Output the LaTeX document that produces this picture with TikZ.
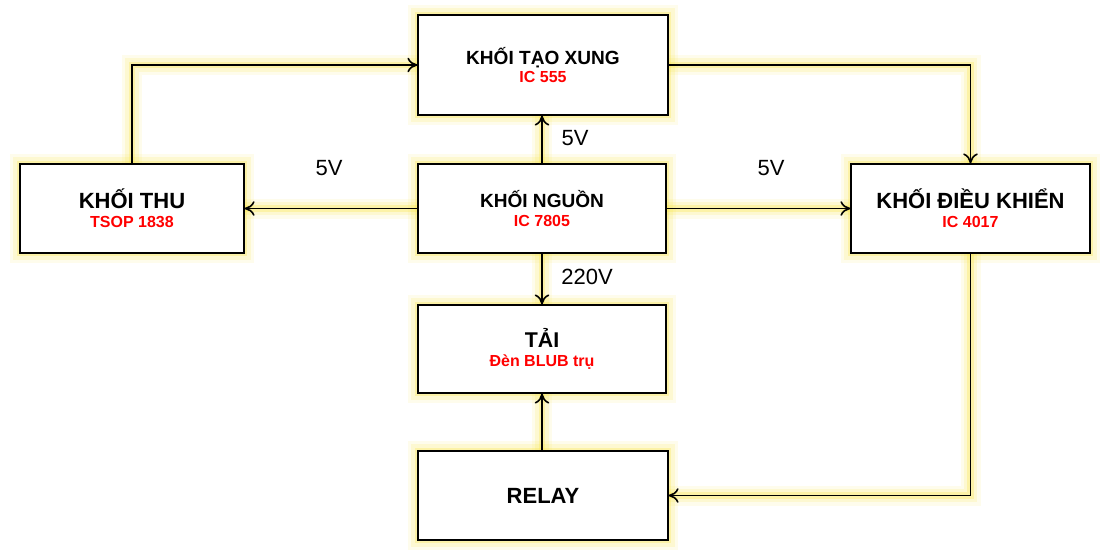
\documentclass[tikz,border=0pt]{standalone}
\usepackage{fontspec}
\setmainfont{Liberation Sans}
\usetikzlibrary{arrows.meta}
\definecolor{glowc}{RGB}{250,230,70}
\newcommand{\subt}[1]{\\[2pt]{\fontsize{12}{12}\selectfont\bfseries\color{red}#1}}
\begin{document}
\begin{tikzpicture}[x=0.75pt,y=-0.75pt,
  glow/.style={preaction={-,draw=glowc,line width=15pt,opacity=0.1},
               preaction={-,draw=glowc,line width=10pt,opacity=0.16},
               preaction={-,draw=glowc,line width=5pt,opacity=0.3}},
  blk/.style={draw=black,fill=white,line width=0.9pt,glow,align=center,inner sep=0pt},
  conn/.style={-{To[length=7.5pt,width=11pt,line width=1.2pt]},line width=1.2pt,glow},
  lbl/.style={font=\fontsize{16.5}{16.5}\selectfont}]
\useasboundingbox (0,0) rectangle (1111,560);
\fill[white] (0,0) rectangle (1111,560);
\node[blk,minimum width=187.5pt,minimum height=75pt] (top) at (543,65)
  {{\fontsize{14.3}{15}\selectfont\bfseries KHỐI TẠO XUNG}\subt{IC 555}};
\node[blk,minimum width=168pt,minimum height=66.75pt] (thu) at (132,208.5)
  {{\fontsize{16.5}{17}\selectfont\bfseries KHỐI THU}\subt{TSOP 1838}};
\node[blk,minimum width=186pt,minimum height=66.75pt] (nguon) at (542,208.5)
  {{\fontsize{14.3}{15}\selectfont\bfseries KHỐI NGUỒN}\subt{IC 7805}};
\node[blk,minimum width=179.25pt,minimum height=66.75pt] (dk) at (970.5,208.5)
  {{\fontsize{16.5}{17}\selectfont\bfseries KHỐI ĐIỀU KHIỂN}\subt{IC 4017}};
\node[blk,minimum width=186pt,minimum height=66pt] (tai) at (542,349)
  {{\fontsize{16}{17}\selectfont\bfseries TẢI}\subt{Đèn BLUB trụ}};
\node[blk,minimum width=187.5pt,minimum height=66.75pt] (relay) at (543,495.5)
  {{\fontsize{16.5}{17}\selectfont\bfseries RELAY}};
% connectors
\draw[conn] (thu.north) |- (top.west);
\draw[conn] (top.east) -| (dk.north);
\draw[conn] (nguon.north) -- (nguon.north |- top.south);
\draw[conn] (nguon.west) -- (thu.east);
\draw[conn] (nguon.east) -- (dk.west);
\draw[conn] (nguon.south) -- (tai.north);
\draw[conn] (tai.south |- relay.north) -- (tai.south);
\draw[conn] (dk.south) |- (relay.east);
% labels
\node[lbl] (l1) at (575,138) {5V};
\node[lbl] (l2) at (329,168) {5V};
\node[lbl] (l3) at (771,168) {5V};
\node[lbl] (l4) at (587,277) {220V};
\end{tikzpicture}
\end{document}
